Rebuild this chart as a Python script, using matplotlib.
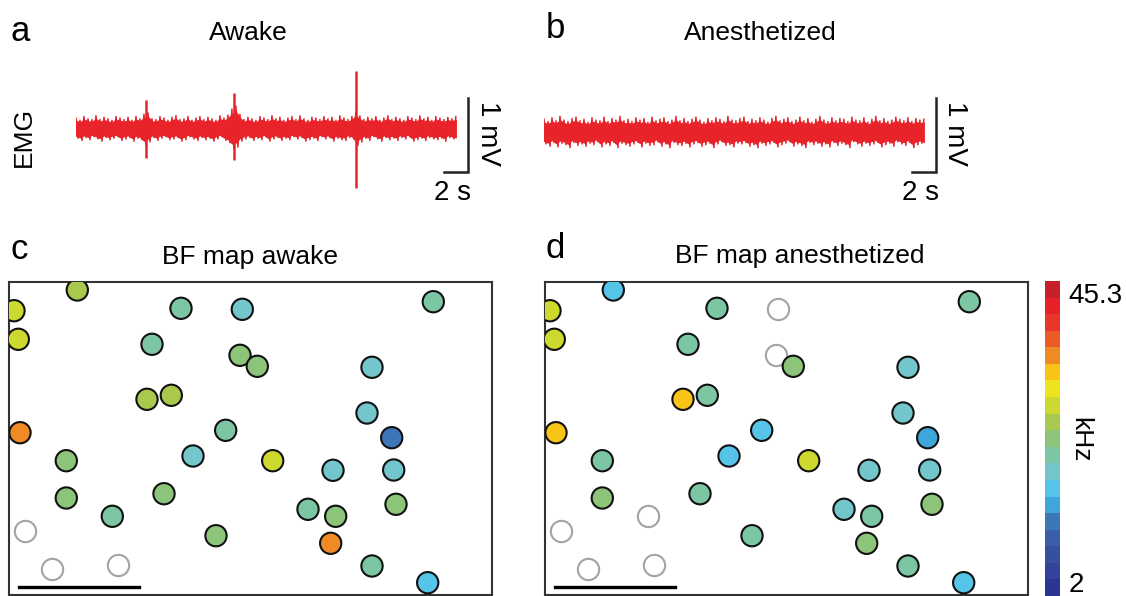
import numpy as np
import matplotlib
matplotlib.use('Agg')
import matplotlib.pyplot as plt
from matplotlib.colors import ListedColormap, LogNorm

plt.rcParams['font.family'] = ['Liberation Sans', 'DejaVu Sans']

W, H = 1126, 596

# ---- EMG traces (mV): upper / lower envelope per time bin over 32 s ----
trace_dur = 32.0
awake_hi = [0.14, 0.11, 0.16, 0.13, 0.12, 0.17, 0.12, 0.15, 0.13, 0.11,
            0.16, 0.14, 0.12, 0.15, 0.11, 0.16, 0.13, 0.19, 0.21, 0.13,
            0.12, 0.16, 0.14, 0.11, 0.15, 0.17, 0.12, 0.13, 0.16, 0.11,
            0.14, 0.16, 0.12, 0.15, 0.13, 0.11, 0.17, 0.14, 0.18, 0.26,
            0.30, 0.19, 0.12, 0.15, 0.13, 0.11, 0.16, 0.14, 0.12, 0.17,
            0.13, 0.15, 0.11, 0.14, 0.16, 0.12, 0.17, 0.13, 0.11, 0.15,
            0.14, 0.12, 0.16, 0.13, 0.15, 0.11, 0.17, 0.14, 0.12, 0.16,
            0.22, 0.17, 0.12, 0.15, 0.13, 0.16, 0.11, 0.14, 0.17, 0.12,
            0.15, 0.13, 0.11, 0.16, 0.14, 0.12, 0.17, 0.13, 0.15, 0.11,
            0.16, 0.14, 0.12, 0.15, 0.13, 0.16]
awake_lo = [-0.13, -0.16, -0.12, -0.15, -0.11, -0.14, -0.17, -0.12, -0.15, -0.13,
            -0.11, -0.16, -0.14, -0.12, -0.17, -0.13, -0.15, -0.22, -0.18, -0.12,
            -0.16, -0.13, -0.11, -0.15, -0.14, -0.12, -0.17, -0.15, -0.11, -0.14,
            -0.16, -0.12, -0.15, -0.13, -0.17, -0.14, -0.11, -0.16, -0.19, -0.27,
            -0.25, -0.17, -0.14, -0.12, -0.16, -0.13, -0.15, -0.11, -0.17, -0.14,
            -0.12, -0.16, -0.13, -0.15, -0.11, -0.14, -0.12, -0.17, -0.15, -0.13,
            -0.16, -0.11, -0.14, -0.12, -0.17, -0.13, -0.15, -0.16, -0.12, -0.14,
            -0.23, -0.18, -0.13, -0.16, -0.11, -0.14, -0.17, -0.12, -0.15, -0.13,
            -0.16, -0.12, -0.14, -0.11, -0.17, -0.15, -0.13, -0.16, -0.12, -0.14,
            -0.15, -0.13, -0.17, -0.12, -0.14, -0.16]
awake_spike_t = [5.9, 13.3, 23.6]
awake_spike_hi = [0.38, 0.47, 0.77]
awake_spike_lo = [-0.40, -0.42, -0.80]

anest_hi = [0.17, 0.14, 0.19, 0.15, 0.21, 0.16, 0.14, 0.18, 0.20, 0.15,
            0.17, 0.13, 0.19, 0.16, 0.15, 0.20, 0.14, 0.18, 0.16, 0.21,
            0.15, 0.17, 0.14, 0.19, 0.16, 0.18, 0.13, 0.20, 0.15, 0.17,
            0.19, 0.14, 0.16, 0.21, 0.15, 0.18, 0.14, 0.17, 0.20, 0.16,
            0.13, 0.18, 0.15, 0.19, 0.17, 0.14, 0.21, 0.16, 0.15, 0.18,
            0.20, 0.14, 0.17, 0.15, 0.19, 0.16, 0.13, 0.18, 0.21, 0.15,
            0.17, 0.19, 0.14, 0.16, 0.20, 0.15, 0.18, 0.13, 0.17, 0.21,
            0.16, 0.14, 0.19, 0.15, 0.18, 0.17, 0.14, 0.20, 0.16, 0.15,
            0.19, 0.13, 0.17, 0.21, 0.15, 0.18, 0.14, 0.16, 0.20, 0.17,
            0.15, 0.19, 0.14, 0.18, 0.16, 0.17]
anest_lo = [-0.16, -0.19, -0.14, -0.20, -0.15, -0.17, -0.21, -0.14, -0.18, -0.16,
            -0.19, -0.15, -0.17, -0.13, -0.20, -0.16, -0.18, -0.14, -0.21, -0.15,
            -0.17, -0.19, -0.16, -0.14, -0.20, -0.15, -0.18, -0.17, -0.13, -0.19,
            -0.16, -0.21, -0.14, -0.17, -0.18, -0.15, -0.20, -0.16, -0.14, -0.19,
            -0.17, -0.15, -0.21, -0.16, -0.13, -0.18, -0.17, -0.20, -0.15, -0.16,
            -0.14, -0.19, -0.17, -0.21, -0.15, -0.18, -0.16, -0.14, -0.20, -0.17,
            -0.15, -0.13, -0.19, -0.16, -0.18, -0.21, -0.14, -0.17, -0.15, -0.19,
            -0.16, -0.20, -0.14, -0.18, -0.15, -0.17, -0.21, -0.13, -0.16, -0.19,
            -0.15, -0.18, -0.16, -0.14, -0.20, -0.17, -0.15, -0.19, -0.13, -0.16,
            -0.18, -0.14, -0.21, -0.17, -0.15, -0.18]

# ---- BF maps: cell positions (same field of view), best frequency in kHz ----
cell_x = [68.3, 5.0, 9.3, 172.0, 233.3, 424.3, 143.0, 231.0, 248.3, 363.0,
          138.0, 162.3, 358.0, 11.0, 216.7, 382.7, 57.3, 184.0, 263.7, 324.0,
          384.7, 57.3, 155.0, 103.3, 299.0, 326.7, 387.0, 207.0, 321.7, 363.0,
          418.7, 16.0, 42.7, 109.3]
cell_y = [8.0, 28.7, 57.3, 26.3, 27.3, 19.7, 62.3, 73.3, 84.3, 85.3,
          117.3, 113.3, 131.0, 150.7, 148.3, 155.7, 178.7, 174.0, 178.7, 188.3,
          188.0, 216.0, 211.7, 234.3, 227.3, 234.3, 222.3, 253.7, 261.3, 284.0,
          300.7, 249.0, 286.7, 283.0]
nan = np.nan
bf_awake = [11.2, 13.2, 13.2, 8.07, 6.85, 8.07, 8.07, 9.51, 9.51, 6.85,
            11.2, 11.2, 6.85, 21.6, 8.07, 4.19, 9.51, 6.85, 13.2, 6.85,
            6.85, 9.51, 9.51, 8.07, 8.07, 9.51, 9.51, 9.51, 21.6, 8.07,
            5.81, nan, nan, nan]
bf_anest = [5.81, 13.2, 13.2, 8.07, nan, 8.07, 8.07, nan, 9.51, 6.85,
            18.4, 8.07, 6.85, 18.4, 5.81, 4.93, 8.07, 5.81, 13.2, 6.85,
            6.85, 9.51, 8.07, nan, 6.85, 8.07, 9.51, 8.07, 9.51, 8.07,
            5.81, nan, nan, nan]

bf_min, bf_max = 2, 45.3
bf_colors = ['#2c3590', '#334399', '#36509f', '#3a5ea8', '#3c78b8', '#3fa6dc',
             '#55c4e8', '#73c7cc', '#7cc6a4', '#8cc57a', '#a8c94e', '#cdd92f',
             '#ece41f', '#f9c418', '#f08a24', '#ec5a26', '#e8372a', '#e62127',
             '#c8202a']
cmap = ListedColormap(bf_colors)
norm = LogNorm(bf_min, bf_max)

red = '#e8242a'
dark = '#222222'


def box(x0, y0, x1, y1):
    return [x0 / W, 1 - y1 / H, (x1 - x0) / W, (y1 - y0) / H]


def ftext(x, y, s, **kw):
    fig.text(x / W, 1 - y / H, s, **kw)


fig = plt.figure(figsize=(W / 100, H / 100), dpi=100)

# EMG panels
px_s, px_mv = 11.87, 74.5
for left, mid, hi, lo, sp in [(76, 128.5, awake_hi, awake_lo, True),
                               (544, 132, anest_hi, anest_lo, False)]:
    ax = fig.add_axes(box(left, 55, left + 440, 210))
    hi, lo = np.array(hi), np.array(lo)
    t = np.linspace(0, trace_dur, len(hi))
    dt = t[1] - t[0]
    # solid core plus a zig-zag between the envelopes for the noisy fringe
    ax.fill_between(t, 0.75 * lo, 0.75 * hi, color=red, lw=0.8)
    tz = np.column_stack([t, t + dt / 2]).ravel()
    yz = np.column_stack([hi, lo]).ravel()
    ax.plot(tz[:-1], yz[:-1], color=red, lw=1.1)
    if sp:
        ax.vlines(awake_spike_t, awake_spike_lo, awake_spike_hi, color=red, lw=1.8)
    ax.set_xlim(0, 440 / px_s)
    ax.set_ylim(-(210 - mid) / px_mv, (mid - 55) / px_mv)
    ax.axis('off')
    bar_x = trace_dur + 1.0
    bar_bot = -(172 - mid) / px_mv
    ax.plot([bar_x - 2, bar_x, bar_x], [bar_bot, bar_bot, bar_bot + 1],
            color=dark, lw=1.8, solid_joinstyle='miter', clip_on=False)

ftext(20, 41, 'a', fontsize=25, ha='center', va='baseline')
ftext(555, 38, 'b', fontsize=25, ha='center', va='baseline')
ftext(248, 40, 'Awake', fontsize=19, ha='center', va='baseline')
ftext(760, 40, 'Anesthetized', fontsize=19, ha='center', va='baseline')
ftext(23.5, 137, 'EMG', fontsize=19, rotation=90, ha='center', va='center')
ftext(488, 133, '1 mV', fontsize=20, rotation=-90, ha='center', va='center')
ftext(955, 133, '1 mV', fontsize=20, rotation=-90, ha='center', va='center')
ftext(452, 200, '2 s', fontsize=20, ha='center', va='baseline')
ftext(920, 200, '2 s', fontsize=20, ha='center', va='baseline')

# BF maps
for x0, bf in [(9, bf_awake), (545, bf_anest)]:
    ax = fig.add_axes(box(x0, 282, x0 + 483, 595))
    bf = np.array(bf)
    cx, cy = np.array(cell_x), np.array(cell_y)
    empty = np.isnan(bf)
    ax.scatter(cx[empty], cy[empty], s=235, facecolor='white',
               edgecolor='#a3a3a3', lw=1.5, zorder=2)
    sc = ax.scatter(cx[~empty], cy[~empty], c=bf[~empty], cmap=cmap, norm=norm,
                    s=235, edgecolor='#111111', lw=1.5, zorder=3)
    ax.plot([10, 130], [305, 305], color='black', lw=2.4)
    ax.set_xlim(0, 483)
    ax.set_ylim(313, 0)
    ax.set_xticks([])
    ax.set_yticks([])
    for s in ax.spines.values():
        s.set_color('#333333')
        s.set_linewidth(1.5)

ftext(19, 259, 'c', fontsize=25, ha='center', va='baseline')
ftext(555, 258, 'd', fontsize=25, ha='center', va='baseline')
ftext(249.5, 264, 'BF map awake', fontsize=19, ha='center', va='baseline')
ftext(800, 263, 'BF map anesthetized', fontsize=19, ha='center', va='baseline')

cax = fig.add_axes(box(1045, 281, 1060, 596))
cb = fig.colorbar(sc, cax=cax)
cb.outline.set_visible(False)
cb.set_ticks([])
cb.minorticks_off()
ftext(1068, 303, '45.3', fontsize=20, ha='left', va='baseline')
ftext(1069, 592, '2', fontsize=20, ha='left', va='baseline')
ftext(1080, 440, 'kHz', fontsize=19, rotation=-90, ha='center', va='center')

fig.savefig('out.png', dpi=100)
